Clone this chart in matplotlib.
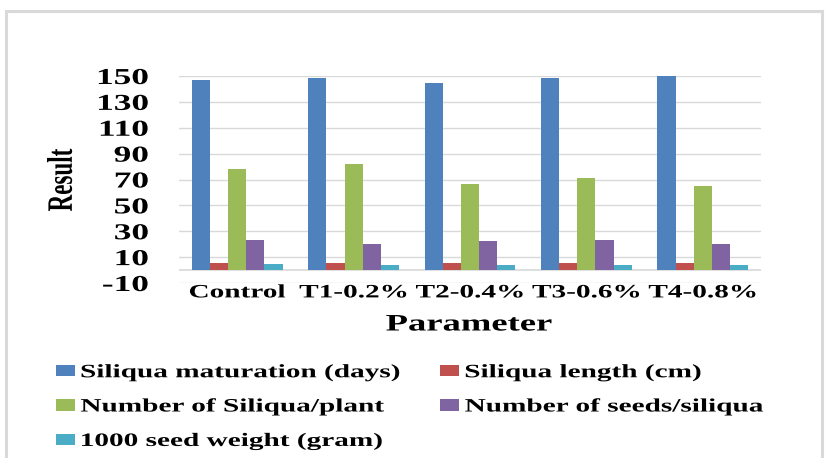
import matplotlib
matplotlib.use("Agg")
import matplotlib.pyplot as plt
import matplotlib.patheffects as pe
from matplotlib.transforms import Affine2D
from matplotlib.patches import Rectangle, Patch
import numpy as np

categories = ["Control", "T1-0.2%", "T2-0.4%", "T3-0.6%", "T4-0.8%"]
series_names = ["Siliqua maturation (days)", "Siliqua length (cm)",
                "Number of Siliqua/plant", "Number of seeds/siliqua",
                "1000 seed weight (gram)"]
maturation = [147, 148.5, 144.6, 148.5, 150]
length_cm = [5.6, 5.6, 5.4, 5.4, 5.4]
siliqua_plant = [78.5, 82.3, 66.2, 70.8, 64.6]
seeds_siliqua = [23, 20, 22.3, 23, 20]
seed_weight = [4.6, 3.8, 3.8, 3.8, 3.8]
yticks = [-10, 10, 30, 50, 70, 90, 110, 130, 150]

colors = ["#4F81BD", "#C0504D", "#9BBB59", "#8064A2", "#4BACC6"]
FONT = "Liberation Serif"
SX = 1.55


class Stretch(pe.AbstractPathEffect):
    def __init__(self, sx, anchor="center"):
        super().__init__()
        self.sx = sx
        self.anchor = anchor

    def draw_path(self, renderer, gc, tpath, affine, rgbFace=None):
        ext = tpath.get_extents(affine)
        if self.anchor == "left":
            x0 = ext.x0
        elif self.anchor == "right":
            x0 = ext.x1
        else:
            x0 = 0.5 * (ext.x0 + ext.x1)
        t = affine + Affine2D().translate(-x0, 0).scale(self.sx, 1).translate(x0, 0)
        renderer.draw_path(gc, tpath, t, rgbFace)


W, H = 830, 458
fig = plt.figure(figsize=(W / 100, H / 100), dpi=100)
fig.patch.set_facecolor("white")

# outer frame
fig.add_artist(Rectangle((5.5 / W, -0.1), (822 - 5.5) / W, 1.1 - 11 / H,
                         transform=fig.transFigure, fill=False,
                         edgecolor="#D9D9D9", lw=2.2, clip_on=False))

left, right, top, bottom = 179, 761, 76, 283
ax = fig.add_axes([left / W, 1 - bottom / H, (right - left) / W, (bottom - top) / H])

series = [maturation, length_cm, siliqua_plant, seeds_siliqua, seed_weight]
x = np.arange(len(categories))
bw = 0.156
for i, (vals, c, name) in enumerate(zip(series, colors, series_names)):
    ax.bar(x + (i - 2) * bw, vals, width=bw, color=c, label=name, zorder=3)

ax.set_xlim(-0.5, len(categories) - 0.5)
ax.set_ylim(-10, 150)
ax.set_yticks(yticks)
ax.grid(axis="y", color="#D9D9D9", lw=1, zorder=0)
ax.axhline(0, color="#D9D9D9", lw=1.2, zorder=2)
for s in ax.spines.values():
    s.set_visible(False)
ax.set_xticks(x)
ax.set_xticklabels(categories, fontfamily=FONT, fontweight="bold", fontsize=13.6)
ax.set_yticklabels([str(v) for v in yticks], fontfamily=FONT, fontweight="bold",
                   fontsize=16.4)
ax.tick_params(axis="both", length=0)
ax.tick_params(axis="y", pad=22)
ax.tick_params(axis="x", pad=1.0)
for t in ax.get_yticklabels():
    t.set_path_effects([Stretch(SX, "right")])
for t in ax.get_xticklabels():
    t.set_path_effects([Stretch(SX, "center")])

fig.text(62 / W, 1 - 180 / H, "Result", rotation=90, ha="center", va="center",
         fontfamily=FONT, fontweight="bold", fontsize=16.6,
         path_effects=[Stretch(SX, "center")])
fig.text(469 / W, 1 - 325 / H, "Parameter", ha="center", va="center",
         fontfamily=FONT, fontweight="bold", fontsize=17,
         path_effects=[Stretch(SX, "center")])

order = [0, 2, 4, 1, 3]
leg_handles = [Patch(facecolor=colors[i], edgecolor="none") for i in order]
leg_labels = [series_names[i] for i in order]
leg = fig.legend(leg_handles, leg_labels, ncol=2, loc="upper left",
                 bbox_to_anchor=(56 / W, 1 - 364 / H),
                 prop={"family": FONT, "weight": "bold", "size": 13.6},
                 frameon=False, handlelength=1.0, handleheight=0.55,
                 handletextpad=0.3, columnspacing=8.07, labelspacing=0.91,
                 borderpad=0, borderaxespad=0)
for t in leg.get_texts():
    t.set_path_effects([Stretch(SX, "left")])

fig.savefig("out.png", dpi=100)
